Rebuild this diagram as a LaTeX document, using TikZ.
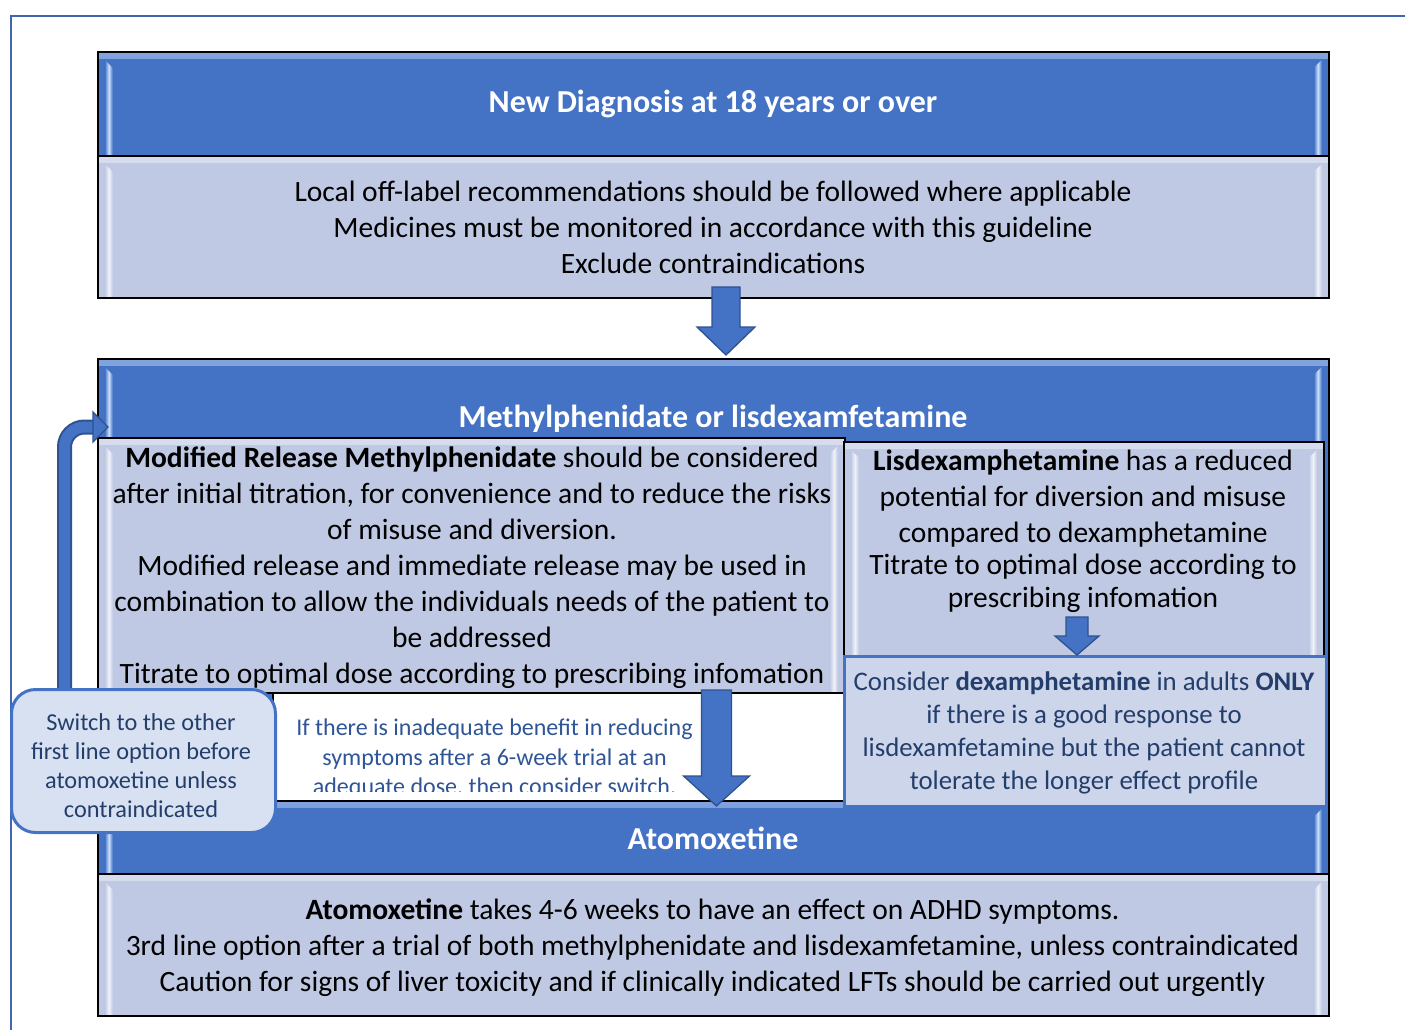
\documentclass[tikz,border=0pt]{standalone}
\usepackage{fontspec}
\setmainfont{Carlito}
\usetikzlibrary{calc}
\definecolor{hblue}{HTML}{4472C4}
\definecolor{hlite}{HTML}{CFE2FF}
\definecolor{bfill}{HTML}{BFC9E3}
\definecolor{blite}{HTML}{F2F4FA}
\definecolor{adark}{HTML}{2F528F}
\definecolor{framecol}{HTML}{3F66AE}
\definecolor{navy}{HTML}{243E6B}
\definecolor{tblue}{HTML}{2F5597}
\definecolor{cfill}{HTML}{CDD5EB}
\definecolor{sfill}{HTML}{D7E1F2}

\newcommand\bevelstrips[2]{%
 \fill[top color=#2!45!#1, bottom color=#1] (path picture bounding box.north west) rectangle ([yshift=-7pt]path picture bounding box.north east);
 \fill[left color=#1, right color=#2] ([xshift=7pt,yshift=-8pt]path picture bounding box.north west) -- ([xshift=11pt,yshift=-12pt]path picture bounding box.north west) -- ([xshift=11pt]path picture bounding box.south west) -- ([xshift=7pt]path picture bounding box.south west) -- cycle;
 \fill[left color=#2, right color=#1] ([xshift=11pt,yshift=-12pt]path picture bounding box.north west) -- ([xshift=15pt,yshift=-16pt]path picture bounding box.north west) -- ([xshift=15pt]path picture bounding box.south west) -- ([xshift=11pt]path picture bounding box.south west) -- cycle;
 \fill[left color=#1, right color=#2] ([xshift=-15pt,yshift=-16pt]path picture bounding box.north east) -- ([xshift=-11pt,yshift=-12pt]path picture bounding box.north east) -- ([xshift=-11pt]path picture bounding box.south east) -- ([xshift=-15pt]path picture bounding box.south east) -- cycle;
 \fill[left color=#2, right color=#1] ([xshift=-11pt,yshift=-12pt]path picture bounding box.north east) -- ([xshift=-7pt,yshift=-8pt]path picture bounding box.north east) -- ([xshift=-7pt]path picture bounding box.south east) -- ([xshift=-11pt]path picture bounding box.south east) -- cycle;
}
% block arrow pointing down: style, x, ytop, ytip, shaft half width, head half width, head length
\newcommand\blkarrow[7]{%
 \draw[#1] (#2-#5,#3) -- (#2+#5,#3) -- (#2+#5,#4-#7) -- (#2+#6,#4-#7) -- (#2,#4) -- (#2-#6,#4-#7) -- (#2-#5,#4-#7) -- cycle;}

\tikzset{
 hdr/.style={draw=black, line width=1.6pt, fill=hblue, inner sep=0pt, anchor=north west, path picture={\bevelstrips{hblue}{hlite}}},
 bodybox/.style={draw=black, line width=1.6pt, fill=bfill, inner sep=0pt, anchor=north west, path picture={\bevelstrips{bfill}{blite}}},
 blockarr/.style={fill=hblue, draw=adark, line width=1.3pt, line join=miter},
 htext/.style={text=white, font=\fontsize{32}{38}\selectfont\bfseries, inner sep=0pt},
 btext/.style={text=black, font=\fontsize{29.5}{36}\selectfont, align=center, inner sep=0pt},
 stext/.style={text=tblue, font=\fontsize{24}{29.5}\selectfont, align=center, inner sep=0pt},
 ctext/.style={text=navy, font=\fontsize{26.8}{33}\selectfont, align=center, inner sep=0pt},
 wtext/.style={text=navy, font=\fontsize{24.3}{29}\selectfont, align=center, inner sep=0pt},
}

\begin{document}
\begin{tikzpicture}[x=1pt,y=-1pt]
\useasboundingbox (0,0) rectangle (1405,1029);
\fill[white] (0,0) rectangle (1405,1029);
\draw[framecol, line width=2pt] (11,1035) -- (11,16) -- (1410,16);

% box 1
\node[hdr, minimum width=1231pt, minimum height=104pt] (h1) at (97,51) {};
\node[bodybox, minimum width=1231pt, minimum height=142pt] (b1) at (97,155) {};
\node[htext] (t1) at (713,104) {New Diagnosis at 18 years or over};
\node[btext] (tb1) at (713,227.5) {Local off-label recommendations should be followed where applicable\\Medicines must be monitored in accordance with this guideline\\Exclude contraindications};

\blkarrow{blockarr}{726}{287}{355}{14}{29}{28}

% box 2
\node[hdr, minimum width=1231pt, minimum height=442pt] (h2) at (97,358) {};
\node[htext] (t2) at (713,419) {Methylphenidate or lisdexamfetamine};

% atomoxetine
\node[hdr, minimum width=1231pt, minimum height=73pt] (h3) at (97,800) {};
\node[bodybox, minimum width=1231pt, minimum height=142pt] (b3) at (97,873) {};
\node[htext] (t3) at (713,838) {Atomoxetine};
\node[btext] (tb3) at (712.5,948) {\textbf{Atomoxetine} takes 4-6 weeks to have an effect on ADHD symptoms.\\3rd line option after a trial of both methylphenidate and lisdexamfetamine, unless contraindicated\\Caution for signs of liver toxicity and if clinically indicated LFTs should be carried out urgently};

% left and right sub boxes
\node[bodybox, minimum width=747pt, minimum height=255pt] (lb) at (97,437) {};
\node[bodybox, minimum width=480pt, minimum height=242pt] (rb) at (843,441) {};
\node[btext] (tlb) at (472,568) {\textbf{Modified Release Methylphenidate} should be considered\\after initial titration, for convenience and to reduce the risks\\of misuse and diversion.\\Modified release and immediate release may be used in\\combination to allow the individuals needs of the patient to\\be addressed\\Titrate to optimal dose according to prescribing infomation};
\node[btext] (trb1) at (1083,499) {\textbf{Lisdexamphetamine} has a reduced\\potential for diversion and misuse\\compared to dexamphetamine};
\node[btext, font=\fontsize{29.5}{33}\selectfont] (trb2) at (1083,583) {Titrate to optimal dose according to\\prescribing infomation};

% white note box
\node[draw=black, line width=1.6pt, fill=white, minimum width=571pt, minimum height=108pt, anchor=north west, inner sep=0pt] (wb) at (272,692) {};
\begin{scope}
\clip (272,694) rectangle (843,791);
\node[stext] (twb) at (494.5,759) {If there is inadequate benefit in reducing\\symptoms after a 6-week trial at an\\adequate dose, then consider switch.};
\end{scope}

\blkarrow{blockarr}{716.5}{690}{806}{15}{33}{30}

% consider box
\node[draw=hblue, line width=2.5pt, fill=cfill, minimum width=482pt, minimum height=150pt, anchor=north west, inner sep=0pt] (cb) at (843,655) {};
\node[ctext] (tcb) at (1084,733) {Consider \textbf{dexamphetamine} in adults \textbf{ONLY}\\if there is a good response to\\lisdexamfetamine but the patient cannot\\tolerate the longer effect profile};

\blkarrow{blockarr}{1077}{617}{655}{11}{22}{19}

% loop-back arrow
\coordinate (la0) at (64.5,700);
\coordinate (la1) at (96,427);
\draw[adark, line width=15pt, rounded corners=20pt] (la0) |- (la1);
\draw[hblue, line width=11pt, rounded corners=20pt] (la0) |- (la1);
\draw[blockarr] (93,412) -- (108,427) -- (93,442) -- cycle;

% switch box
\node[draw=hblue, line width=3pt, fill=sfill, rounded corners=24pt, minimum width=264pt, minimum height=143pt, anchor=north west, inner sep=0pt] (sw) at (10,688) {};
\node[wtext] (tsw) at (141,765.5) {Switch to the other\\first line option before\\atomoxetine unless\\contraindicated};
\end{tikzpicture}
\end{document}
